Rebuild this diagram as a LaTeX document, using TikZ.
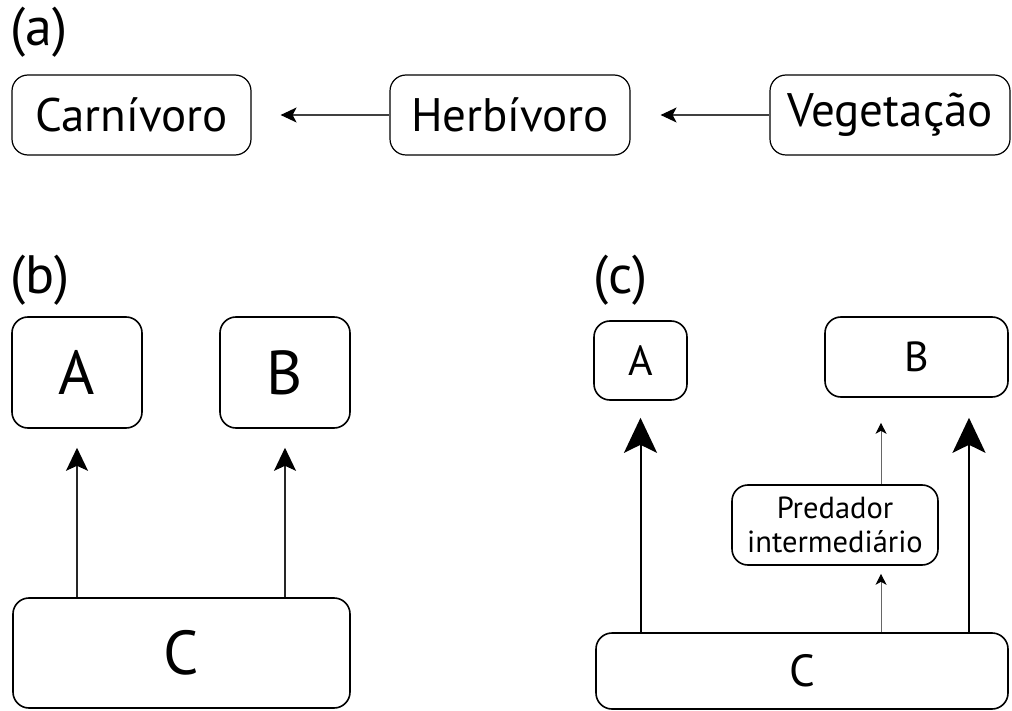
\documentclass[tikz,border=0pt]{standalone}
\usepackage{fontspec}
\setmainfont{PT Sans}
\usetikzlibrary{arrows.meta, positioning, shapes, calc}

\begin{document}
\begin{tikzpicture}[x=1pt, y=-1pt,
        box/.style={draw, rounded corners=16pt, line width=1.6pt, inner sep=0pt, align=center},
        lbl/.style={anchor=west, inner sep=0pt, font=\fontsize{54}{56}\selectfont},
        chainarr/.style={draw=black!75, line width=1.1pt, -{Stealth[length=16pt,width=15pt,inset=4pt,color=black]}},
        midarr/.style={draw=black!85, line width=1.3pt, -{Stealth[length=23pt,width=22pt,inset=5pt,color=black]}},
        bigarr/.style={draw=black, line width=2pt, -{Stealth[length=35pt,width=33pt,inset=8pt,color=black]}},
        thinarr/.style={draw=black!60, line width=1pt, -{Stealth[length=11pt,width=11pt,inset=3pt,color=black]}}]
        \useasboundingbox (0,0) rectangle (1012,711);
        % Chain (a)
        \node[lbl] (la) at (10,32) {(a)};
        \node[box, line width=1.2pt, minimum width=239pt, minimum height=80pt, font=\fontsize{47}{50}\selectfont] (carn) at (131.5,115) {Carnívoro};
        \node[box, line width=1.2pt, minimum width=240pt, minimum height=80pt, font=\fontsize{47}{50}\selectfont] (herb) at (510,115) {Herbívoro};
        \node[box, line width=1.2pt, minimum width=240pt, minimum height=80pt, font=\fontsize{47}{50}\selectfont] (veg) at (890,115) {Vegetação};
        \draw[chainarr, shorten >=29pt] (herb.west) -- (carn.east);
        \draw[chainarr, shorten >=30pt] (veg.west) -- (herb.east);
        % Panel (b)
        \node[lbl] (lb) at (10,280) {(b)};
        \node[box, minimum width=130pt, minimum height=111pt, font=\fontsize{62}{64}\selectfont] (bA) at (77,372.5) {A};
        \node[box, minimum width=130pt, minimum height=111pt, font=\fontsize{62}{64}\selectfont] (bB) at (285,372.5) {B};
        \node[box, minimum width=337pt, minimum height=110pt, font=\fontsize{62}{64}\selectfont] (bC) at (181.5,653) {C};
        \draw[midarr, shorten >=19pt] (bC.north -| bA.south) -- (bA.south);
        \draw[midarr, shorten >=19pt] (bC.north -| bB.south) -- (bB.south);
        % Panel (c)
        \node[lbl] (lc) at (593,280) {(c)};
        \node[box, minimum width=93pt, minimum height=79pt, font=\fontsize{42}{44}\selectfont] (cA) at (640.5,360.5) {A};
        \node[box, minimum width=183pt, minimum height=80pt, font=\fontsize{42}{44}\selectfont] (cB) at (916.5,357) {B};
        \node[box, minimum width=206pt, minimum height=80pt, font=\fontsize{30.5}{34}\selectfont] (pred) at (835,525) {Predador\\intermediário};
        \node[box, minimum width=412pt, minimum height=76pt, font=\fontsize{45}{48}\selectfont] (cC) at (802,671) {C};
        \coordinate (cBr) at ([xshift=52.5pt]cB.south);
        \coordinate (predr) at ([xshift=46pt]pred.south);
        \draw[bigarr, shorten >=17pt] (cC.north -| cA.south) -- (cA.south);
        \draw[bigarr, shorten >=20pt] (cC.north -| cBr) -- (cBr);
        \draw[thinarr, shorten >=8pt] (cC.north -| predr) -- (predr);
        \draw[thinarr, shorten >=25pt] (pred.north -| predr) -- (cB.south -| predr);
\end{tikzpicture}
\end{document}
